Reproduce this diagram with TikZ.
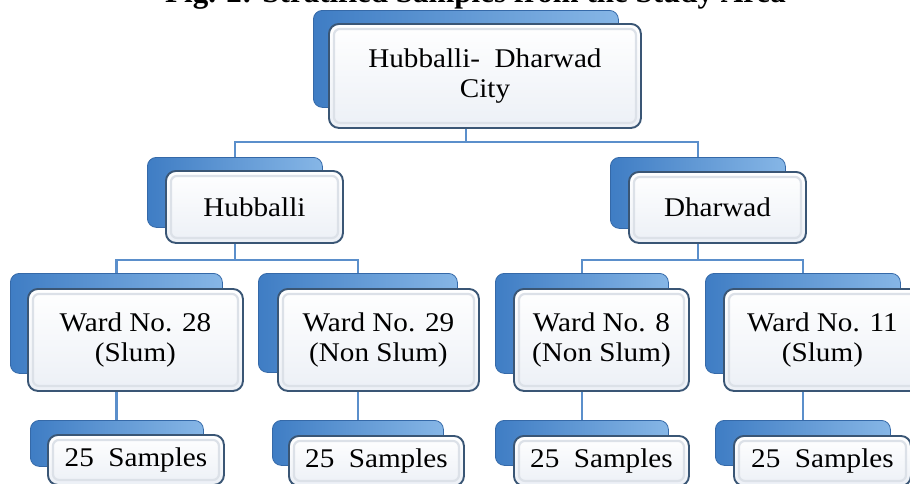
\documentclass[tikz,border=0pt]{standalone}
\usepackage{fontspec}
\setmainfont{Liberation Serif}
\newfontfamily\boxfont{Liberation Serif}[FakeStretch=1.08]
\usetikzlibrary{calc}
\definecolor{connblue}{HTML}{5B8FCB}
\definecolor{backdark}{HTML}{3F7DC4}
\definecolor{backlight}{HTML}{86B6E6}
\definecolor{backedge}{HTML}{3569A8}
\definecolor{frontedge}{HTML}{3A5675}
\definecolor{frontlow}{HTML}{ECF0F6}
\definecolor{bevel}{HTML}{DCE1E8}
\pgfdeclarelayer{bg}\pgfsetlayers{bg,main}
\tikzset{
 backbox/.style={rectangle, rounded corners=9pt, draw=backedge, line width=0.8pt,
   left color=backdark, right color=backlight, anchor=north west, inner sep=0pt},
 frontbox/.style={rectangle, rounded corners=10pt, draw=frontedge, line width=1.9pt,
   top color=white, bottom color=frontlow, anchor=north west, inner sep=0pt,
   font=\boxfont\fontsize{27}{30}\selectfont, align=center, text=black,
   path picture={\draw[bevel, line width=2.2pt, rounded corners=6pt]
     ([shift={(5pt,-5pt)}]path picture bounding box.north west) rectangle
     ([shift={(-5pt,5pt)}]path picture bounding box.south east);}},
 conn/.style={draw=connblue, line width=2.8pt},
 titletext/.style={font=\bfseries\fontsize{31}{34}\selectfont, anchor=base west, inner sep=0pt},
}
\begin{document}
\begin{tikzpicture}[x=1pt,y=-1pt]
\useasboundingbox (0,0) rectangle (910,483);
\node[titletext] (title) at (165,2.5) {Fig. 2: Stratified Samples from the Study Area};
% level coordinates
\coordinate (lev1) at (0,142);
\coordinate (lev2) at (0,260);
% root
\node[backbox, minimum width=305pt, minimum height=97pt] (rootB) at (313,10) {};
\node[frontbox, minimum width=312pt, minimum height=104pt] (root) at (328,23) {Hubballi-~ Dharwad\\City};
% level 1
\node[backbox, minimum width=175pt, minimum height=70pt] (hubB) at (147,157) {};
\node[frontbox, minimum width=177pt, minimum height=72pt] (hub) at (165,170) {Hubballi};
\node[backbox, minimum width=175pt, minimum height=71pt] (dharB) at (610,157) {};
\node[frontbox, minimum width=177pt, minimum height=71pt] (dhar) at (628,171) {Dharwad};
% level 2
\node[backbox, minimum width=212pt, minimum height=100pt] (w28B) at (10,273) {};
\node[frontbox, minimum width=215pt, minimum height=102pt] (w28) at (27,288) {Ward No. 28\\(Slum)};
\node[backbox, minimum width=199pt, minimum height=99pt] (w29B) at (258,273) {};
\node[frontbox, minimum width=201pt, minimum height=102pt] (w29) at (277,288) {Ward No. 29\\(Non Slum)};
\node[backbox, minimum width=173pt, minimum height=100pt] (w8B) at (495,273) {};
\node[frontbox, minimum width=175pt, minimum height=102pt] (w8) at (513,288) {Ward No. 8\\(Non Slum)};
\node[backbox, minimum width=195pt, minimum height=100pt] (w11B) at (705,273) {};
\node[frontbox, minimum width=197pt, minimum height=102pt] (w11) at (723,288) {Ward No. 11\\(Slum)};
% level 3
\node[backbox, minimum width=173pt, minimum height=46pt] (s28B) at (30,420) {};
\node[frontbox, minimum width=176pt, minimum height=50pt] (s28) at (47,434) {25~~Samples};
\node[backbox, minimum width=171pt, minimum height=45pt] (s29B) at (272,420) {};
\node[frontbox, minimum width=175pt, minimum height=50pt] (s29) at (288,435) {25~~Samples};
\node[backbox, minimum width=173pt, minimum height=45pt] (s8B) at (495,420) {};
\node[frontbox, minimum width=175pt, minimum height=50pt] (s8) at (513,435) {25~~Samples};
\node[backbox, minimum width=175pt, minimum height=45pt] (s11B) at (715,420) {};
\node[frontbox, minimum width=177pt, minimum height=50pt] (s11) at (733,435) {25~~Samples};
% connectors
\begin{pgfonlayer}{bg}
\draw[conn] (rootB.center) |- (hubB.center |- lev1) -- (hubB.center);
\draw[conn] (rootB.center) |- (dharB.center |- lev1) -- (dharB.center);
\draw[conn] (hubB.center) |- (w28B.center |- lev2) -- (w28B.center);
\draw[conn] (hubB.center) |- (w29B.center |- lev2) -- (w29B.center);
\draw[conn] (dharB.center) |- (w8B.center |- lev2) -- (w8B.center);
\draw[conn] (dharB.center) |- (w11B.center |- lev2) -- (w11B.center);
\draw[conn] (w28B.center) -- (w28B.center |- s28B.center);
\draw[conn] (w29B.center) -- (w29B.center |- s29B.center);
\draw[conn] (w8B.center) -- (w8B.center |- s8B.center);
\draw[conn] (w11B.center) -- (w11B.center |- s11B.center);
\end{pgfonlayer}
\end{tikzpicture}
\end{document}
